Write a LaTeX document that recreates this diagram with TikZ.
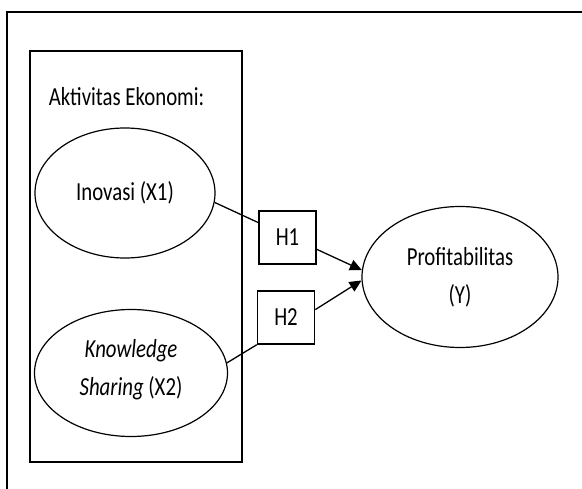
\documentclass[tikz,border=0pt]{standalone}
\usepackage{fontspec}
\setmainfont{Carlito}[FakeStretch=0.8]
\usepackage{tikz}
\usetikzlibrary{arrows.meta,shapes.geometric}

\begin{document}
\begin{tikzpicture}[x=1pt,y=-1pt,>={Triangle[length=12pt,width=11pt]},
    font=\fontsize{26}{38}\selectfont,
    var/.style={draw,ellipse,line width=1.2pt,align=center,inner sep=0pt},
    hyp/.style={draw,line width=1.5pt,minimum width=57pt,minimum height=53pt,inner sep=0pt}]
      \useasboundingbox (0,0) rectangle (582,489);
      \draw[line width=1.8pt] (582,12) -- (7,12) -- (7,489);
      \node[draw,line width=1.5pt,minimum width=212pt,minimum height=411pt] (grup) at (136,256.5) {};
      \node (judul) at (126.5,97) {Aktivitas Ekonomi:};
      \node[var,minimum width=180pt,minimum height=130pt] (X1) at (125,193) {Inovasi (X1)};
      \node[var,minimum width=193pt,minimum height=127pt] (X2) at (131,373) {\textit{Knowledge}\\\textit{Sharing} (X2)\\[-26pt]\mbox{}};
      \node[var,minimum width=196pt,minimum height=141pt] (Y) at (460,277) {Profitabilitas\\(Y)};
      \node[hyp] (H1) at (287.5,237.5) {H1};
      \node[hyp] (H2) at (286,317.5) {H2};
      \draw[line width=1.3pt] (X1.-6) -- (H1.153);
      \draw[line width=1.3pt] (X2.6.5) -- (H2.south west);
      \draw[->,line width=1.3pt] (H1.-22) -- (Y.176.5);
      \draw[->,line width=1.3pt] (H2.15) -- (Y.182.5);
    \end{tikzpicture}
\end{document}
